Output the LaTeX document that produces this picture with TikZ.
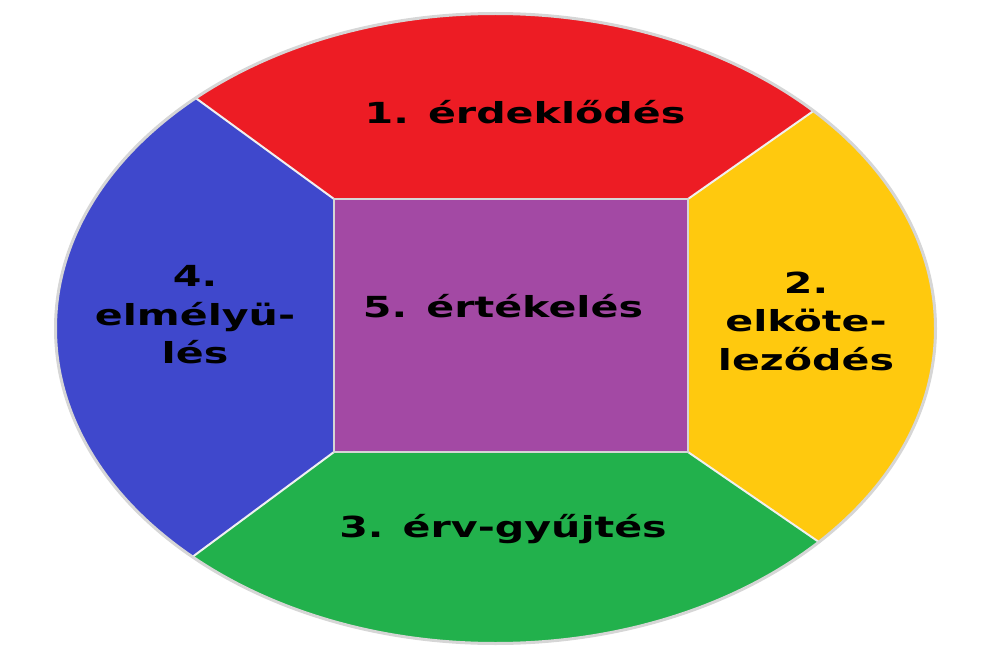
\documentclass[tikz,border=0pt]{standalone}
\usepackage{fontspec}
\usetikzlibrary{calc}
\newfontfamily\segfont{DejaVu Sans}[FakeStretch=1.42]
\definecolor{segred}{RGB}{237,28,36}
\definecolor{segyellow}{RGB}{255,201,14}
\definecolor{seggreen}{RGB}{34,177,76}
\definecolor{segblue}{RGB}{63,72,204}
\definecolor{segpurple}{RGB}{163,73,164}
\definecolor{rimgray}{RGB}{214,214,214}

\begin{document}
\begin{tikzpicture}[x=1pt,y=-1pt,
  seglabel/.style={align=center,inner sep=0pt,
    font=\segfont\bfseries\fontsize{29}{38.5}\selectfont}]
  \useasboundingbox (0,0) rectangle (999,650);
  \coordinate (mid) at (495.5,328.5);
  \coordinate (tl) at (334,199);
  \coordinate (tr) at (688,199);
  \coordinate (br) at (688,452);
  \coordinate (bl) at (334,452);
  \coordinate (etl) at (197,99);
  \coordinate (etr) at (812,112);
  \coordinate (ebr) at (816,540);
  \coordinate (ebl) at (195,555);
  \begin{scope}
    \clip (mid) ellipse (440 and 315);
    \fill[segred] (tl) -- ($(tl)!4!(etl)$) -- ($(tr)!4!(etr)$) -- (tr) -- cycle;
    \fill[segyellow] (tr) -- ($(tr)!4!(etr)$) -- ($(br)!4!(ebr)$) -- (br) -- cycle;
    \fill[seggreen] (br) -- ($(br)!4!(ebr)$) -- ($(bl)!4!(ebl)$) -- (bl) -- cycle;
    \fill[segblue] (bl) -- ($(bl)!4!(ebl)$) -- ($(tl)!4!(etl)$) -- (tl) -- cycle;
    \fill[segpurple] (tl) rectangle (br);
    \draw[white!94!black,line width=2] (tl) -- ($(tl)!1.1!(etl)$);
    \draw[white!94!black,line width=2] (tr) -- ($(tr)!1.1!(etr)$);
    \draw[white!94!black,line width=2] (br) -- ($(br)!1.1!(ebr)$);
    \draw[white!94!black,line width=2] (bl) -- ($(bl)!1.1!(ebl)$);
    \draw[rimgray,line width=2.5] (tl) rectangle (br);
  \end{scope}
  \draw[rimgray,line width=3] (mid) ellipse (440 and 315);
  \node[seglabel] (lblinterest) at (525,112) {1. érdeklődés};
  \node[seglabel] (lblcommit) at (806,321) {2.\\elköte-\\leződés};
  \node[seglabel] (lblargs) at (503,529) {3. érv-gyűjtés};
  \node[seglabel] (lbldeep) at (195,315) {4.\\elmélyü-\\lés};
  \node[seglabel] (lbleval) at (503,306.5) {5. értékelés};
\end{tikzpicture}
\end{document}
